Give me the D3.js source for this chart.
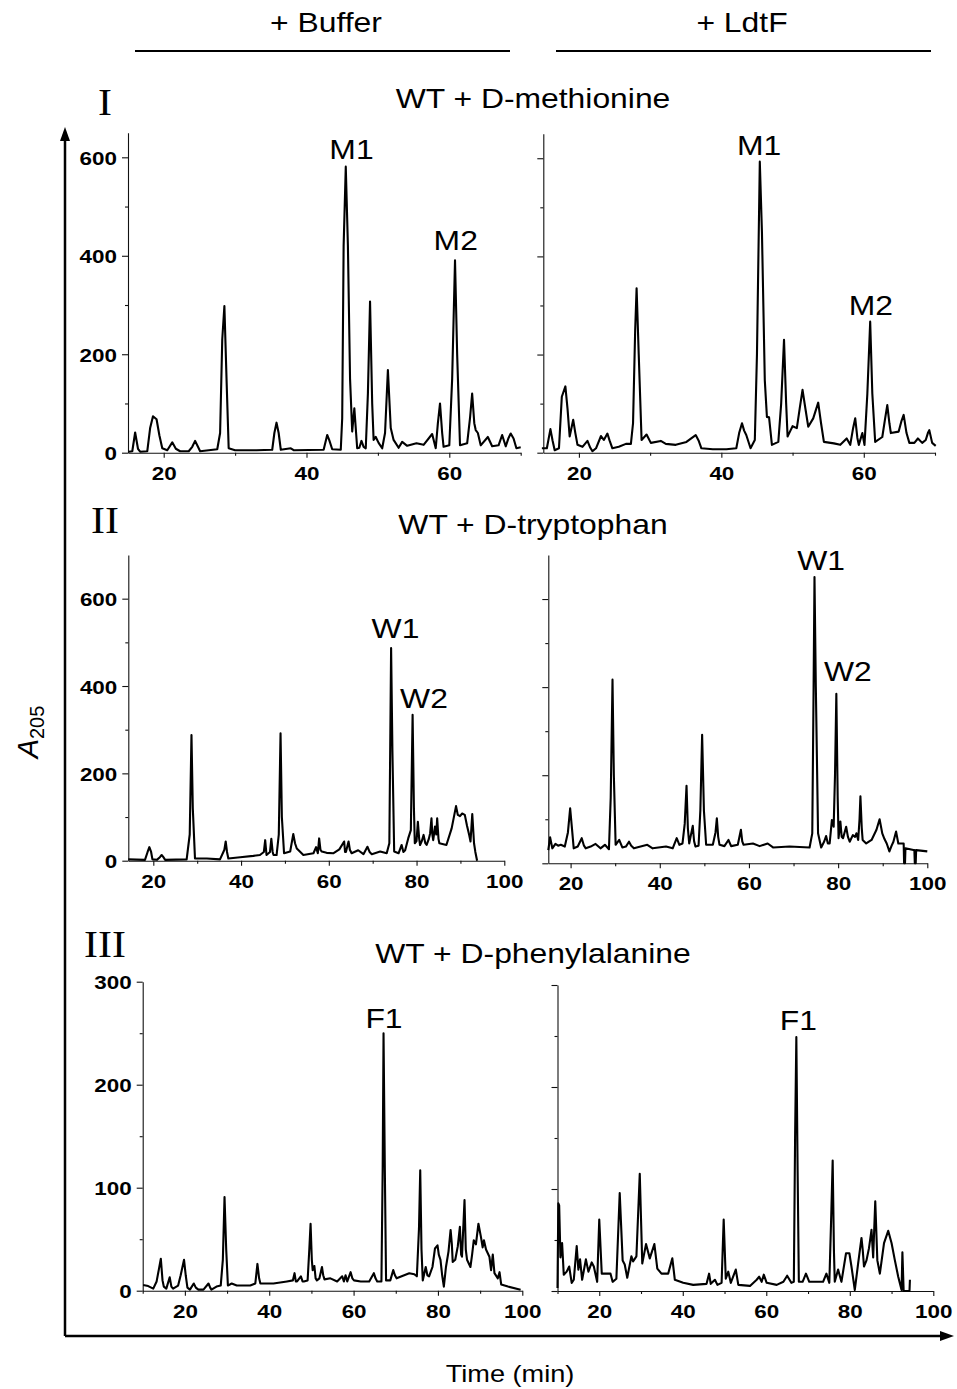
<!DOCTYPE html>
<html><head><meta charset="utf-8">
<script src="https://cdn.jsdelivr.net/npm/d3@7"></script>
<style>body{margin:0;background:#fff} svg{display:block}</style>
</head><body>
<svg id="chart" width="957" height="1389"></svg>
<script>
// ---------------- DATA (time in min, A205) ----------------
const metBuffer = [[15.1,2],[15.6,3],[16.0,41],[16.4,8],[16.7,2],[17.7,3],[18.1,50],[18.5,74],[19.0,68],[19.4,35],[19.8,9],[20.5,5],[21.2,21],[21.7,8],[22.3,3],[23.5,3],[24.0,12],[24.4,24],[24.8,12],[25.1,3],[27.5,7],[27.9,40],[28.2,230],[28.5,298],[28.8,150],[29.1,9],[30,5],[33,5],[35.2,6],[35.5,40],[35.8,61],[36.1,40],[36.4,6],[37.8,9],[38.2,5],[42.4,6],[42.9,36],[43.2,25],[43.6,7],[44.8,6],[45.0,70],[45.2,420],[45.5,581],[45.8,420],[46.1,150],[46.4,43],[46.7,90],[47.1,9],[47.4,10],[47.7,24],[48.0,12],[48.3,9],[48.6,120],[48.9,307],[49.2,100],[49.4,26],[49.7,32],[50.1,20],[50.6,9],[51.0,40],[51.4,168],[51.8,50],[52.2,26],[52.9,10],[53.4,22],[54.1,14],[55.4,19],[56.4,16],[57.6,38],[58.1,9],[58.4,60],[58.7,100],[59.0,40],[59.2,12],[60.0,15],[60.4,150],[60.8,391],[61.1,200],[61.5,15],[62.5,19],[62.9,70],[63.2,120],[63.5,60],[63.7,46],[64.0,40],[64.4,15],[65.4,32],[66.0,13],[66.9,15],[67.4,36],[67.9,13],[68.3,30],[68.6,39],[69.0,29],[69.4,9],[70,11]];
const metLdtF = [[14.8,9],[15.5,9],[16.0,48],[16.3,25],[16.6,5],[17.2,9],[17.6,114],[18.1,135],[18.4,90],[18.7,33],[19.2,67],[19.5,40],[19.8,16],[20.5,12],[21.2,24],[21.6,10],[21.9,3],[22.4,9],[23.1,34],[23.5,26],[24.0,39],[24.3,25],[24.7,9],[25.6,12],[26.6,18],[27.3,18],[27.6,60],[27.9,250],[28.1,335],[28.4,200],[28.8,26],[29.5,37],[30.1,20],[31.5,24],[32.2,18],[33.6,16],[35.1,22],[36.4,36],[36.8,25],[37.2,9],[38.8,7],[40.7,7],[42.1,9],[42.5,40],[42.9,60],[43.2,45],[43.5,36],[44.1,9],[44.7,26],[45.0,200],[45.4,593],[45.7,450],[46.1,148],[46.4,73],[46.7,72],[47.1,16],[48.0,22],[48.4,100],[48.8,230],[49.1,100],[49.3,33],[49.7,45],[50.0,54],[50.6,50],[51.0,90],[51.4,128],[51.8,90],[52.2,53],[52.9,70],[53.6,102],[54.0,60],[54.4,22],[55.8,19],[56.7,16],[57.6,29],[58.1,16],[58.5,50],[58.8,70],[59.1,30],[59.3,16],[59.8,40],[60.1,16],[60.5,120],[60.9,267],[61.2,120],[61.6,22],[62.6,32],[63.0,70],[63.3,97],[63.6,60],[63.8,40],[64.9,43],[65.3,65],[65.6,77],[66.0,40],[66.4,20],[67.1,20],[67.6,29],[68.2,20],[68.7,26],[69.0,40],[69.2,46],[69.6,20],[70.1,14]];
const trpBuffer = [[14.3,3],[18.1,2],[18.7,20],[19.1,31],[19.5,20],[19.8,3],[20.8,2],[21.5,8],[21.9,13],[22.3,8],[22.7,2],[27.6,3],[28.3,60],[28.7,288],[29.0,120],[29.5,5],[32.2,5],[35.2,3],[36.2,25],[36.5,44],[36.8,20],[37.1,5],[39.8,8],[42.8,11],[44.3,13],[45.2,20],[45.5,47],[45.8,13],[46.6,20],[46.9,50],[47.2,20],[47.4,13],[48.1,13],[48.6,60],[49.0,292],[49.3,100],[49.8,17],[51.2,21],[51.9,61],[52.3,40],[52.7,28],[54.2,13],[56.5,17],[57.1,31],[57.5,17],[57.8,51],[58.1,25],[58.4,21],[59.5,18],[61.0,17],[62.4,26],[63.5,44],[63.7,20],[63.9,20],[64.5,44],[64.8,25],[65.2,17],[66.7,24],[67.9,15],[68.8,32],[69.3,20],[69.8,15],[71.7,21],[73.2,17],[73.8,40],[74.2,487],[74.5,250],[74.9,21],[75.9,17],[76.6,36],[77.0,20],[77.4,24],[78.1,51],[78.7,70],[79.1,334],[79.4,120],[79.6,40],[80.0,45],[80.3,89],[80.6,50],[80.8,36],[81.2,45],[81.6,59],[82.0,40],[82.3,36],[82.8,50],[83.1,63],[83.4,97],[83.6,60],[83.8,47],[84.2,78],[84.5,60],[84.7,97],[85.0,50],[85.2,40],[86.8,36],[88.0,74],[89.0,125],[89.4,105],[89.9,102],[90.4,108],[91.0,105],[91.5,80],[92.0,59],[92.3,44],[92.7,107],[93.1,40],[93.4,20],[93.8,0]];
const trpLdtF = [[15.0,30],[15.4,59],[15.9,34],[16.6,44],[17.2,40],[17.8,42],[18.7,38],[19.4,70],[19.9,125],[20.3,80],[20.7,34],[21.6,38],[22.5,57],[23.0,40],[23.4,34],[24.5,38],[25.6,44],[26.7,34],[27.7,42],[28.6,32],[29.0,150],[29.4,417],[29.7,200],[30.1,42],[30.9,53],[31.6,36],[32.4,38],[33.1,49],[33.6,40],[34.2,34],[37.2,42],[38.4,34],[41.4,38],[42.9,34],[43.8,57],[44.4,42],[45.1,45],[45.6,90],[46.0,176],[46.3,80],[46.6,45],[47.4,85],[47.7,50],[48.0,38],[48.7,40],[49.1,120],[49.5,292],[49.9,120],[50.4,42],[51.9,42],[52.5,70],[52.8,102],[53.1,60],[53.4,42],[54.5,39],[55.4,53],[56.0,39],[57.5,42],[58.2,76],[58.5,50],[58.8,42],[60.9,45],[62.4,39],[64.2,45],[65.4,36],[69.1,38],[73.6,36],[74.2,68],[74.5,400],[74.7,650],[75.0,400],[75.5,68],[76.2,36],[76.9,50],[77.3,62],[77.7,45],[78.1,45],[78.6,98],[79.0,83],[79.3,200],[79.6,385],[79.9,150],[80.1,57],[80.5,95],[80.8,60],[81.1,57],[81.8,83],[82.2,60],[82.6,49],[83.3,64],[83.8,60],[84.1,68],[84.5,53],[84.8,100],[85.0,152],[85.3,80],[85.5,53],[86.3,45],[87.5,53],[88.6,76],[89.3,100],[89.9,68],[90.4,55],[90.9,45],[91.5,27],[92.0,40],[92.4,49],[93.0,72],[93.5,45],[94.5,45],[94.7,45],[94.8,0],[95.0,0],[95.1,34],[96.9,30],[97.1,30],[97.2,0],[97.4,0],[97.5,30],[100,27]];
const pheBuffer = [[10.1,5.5],[11.3,4.5],[12.5,2],[13.3,9],[13.8,20],[14.3,31],[14.7,10],[15.0,4],[15.6,2],[16.4,13],[16.8,4],[17.2,2],[18.4,5],[19.0,15],[19.8,30],[20.2,15],[20.6,3],[21.2,1],[22.1,7],[22.6,3],[23.2,1],[24.4,1],[25.6,7],[26.0,3],[26.3,1],[27.5,4],[28.5,5],[29.0,30],[29.4,91],[29.8,40],[30.2,5],[31.1,7],[32.3,5],[35.5,5],[36.7,7],[37.2,26],[37.6,12],[37.9,7],[41.0,7],[44.2,9],[45.6,10],[46.0,17],[46.3,9],[46.6,9],[47.5,14],[47.9,9],[48.2,9],[49.1,10],[49.5,40],[49.8,65],[50.1,30],[50.3,20],[50.7,24],[51.0,12],[51.3,10],[51.9,12],[52.5,23],[52.8,15],[53.1,11],[54.5,12],[56.1,9],[57.3,14],[57.7,9],[58.1,15],[58.5,9],[59.3,18],[59.7,12],[60.1,10],[61.7,9],[63.7,9],[64.8,17],[65.2,12],[65.6,9],[66.6,9],[66.9,120],[67.1,250],[67.4,120],[67.7,10],[68.7,10],[69.4,20],[69.8,15],[70.2,12],[72.0,15],[73.2,17],[74.4,16],[75.0,14],[75.5,60],[75.8,117],[76.1,40],[76.4,10],[77.1,23],[77.5,15],[77.9,14],[78.7,23],[79.3,41],[79.9,44],[80.2,35],[80.6,30],[81.0,15],[81.4,4],[81.9,23],[82.5,38],[83.0,59],[83.3,45],[83.5,28],[84.1,30],[84.7,43],[85.2,62],[85.5,35],[85.7,33],[86.3,88],[86.6,40],[86.9,30],[87.7,23],[88.1,35],[88.5,49],[89.0,45],[89.6,65],[90.2,52],[90.6,42],[90.9,49],[91.4,40],[92.2,33],[92.6,20],[93.0,35],[93.4,17],[94.2,12],[94.6,18],[95.0,6],[96.6,4],[99.6,1]];
const pheLdtF = [[10.0,3],[10.2,86],[10.4,84],[10.7,33],[11.1,47],[11.5,16],[12.2,19],[12.8,24],[13.4,8],[13.9,11],[14.6,44],[15.0,21],[15.4,31],[15.9,11],[16.8,31],[17.4,19],[18.2,28],[18.7,24],[19.5,9],[20.0,70],[20.6,17],[21.8,17],[22.7,17],[23.2,9],[24.1,12],[24.9,96],[25.6,30],[26.1,26],[26.7,13],[27.7,34],[28.1,29],[28.9,34],[29.7,115],[30.3,27],[31.2,46],[32.1,32],[33.2,46],[33.9,22],[34.9,17],[36.5,17],[37.5,32],[38.1,11],[40.1,8],[42.5,6],[45.7,7],[46.3,17],[46.7,7],[47.7,11],[48.3,6],[49.3,8],[49.8,70],[50.3,12],[50.9,19],[51.5,8],[52.7,21],[53.3,6],[56.1,5],[57.7,11],[58.3,14],[58.9,9],[59.4,16],[60.1,8],[62.5,6],[64.1,9],[65.0,15],[66.0,8],[66.6,9],[66.9,150],[67.2,249],[67.5,120],[67.8,9],[68.7,9],[69.5,17],[70.3,9],[72.0,9],[73.6,9],[74.4,17],[75.1,8],[75.6,80],[75.9,128],[76.2,40],[76.4,9],[77.2,21],[78.0,9],[79.1,37],[79.9,37],[80.4,24],[81.2,1],[82.0,27],[82.8,52],[83.1,40],[83.4,24],[84.0,30],[84.6,42],[85.2,60],[85.6,33],[86.1,88],[86.6,30],[87.2,17],[88.2,47],[89.2,59],[90.0,47],[90.8,30],[91.6,14],[92.4,1],[92.6,38],[92.9,0],[94.3,0],[94.4,11]];

// peak annotations: [label, time, A205]
const metBufferPeaks = [["M1",46.3,596],["M2",60.9,411]];
const metLdtFPeaks = [["M1",45.3,607],["M2",61.0,280]];
const trpBufferPeaks = [["W1",75.2,510],["W2",81.7,349]];
const trpLdtFPeaks = [["W1",76.2,665],["W2",82.2,413]];
const pheBufferPeaks = [["F1",67.2,255]];
const pheLdtFPeaks = [["F1",67.7,256]];

// tick values
const xMajorI = [20,40,60], xMinorI = [30,50,70];
const yMajorI = [0,200,400,600], yMinorI = [100,300,500];
const xMajorII = [20,40,60,80,100], xMinorII = [30,50,70,90];
const yMajorII = [0,200,400,600], yMinorII = [100,300,500];
const xMajorIII = [20,40,60,80,100], xMinorIII = [10,30,50,70,90];
const yMajorIII = [0,100,200,300], yMinorIII = [50,150,250];

const columnHeaders = ["+ Buffer", "+ LdtF"];
const rowNumerals = ["I", "II", "III"];
const rowTitles = ["WT + D-methionine", "WT + D-tryptophan", "WT + D-phenylalanine"];

// ---------------- DRAWING ----------------
const SX = 1.18;
const FONT = "'Liberation Sans', Arial, sans-serif";
const SERIF = "'Liberation Serif', 'Times New Roman', serif";
const svg = d3.select("#chart");

function txt(g, x, y, s, size, opts = {}) {
  return g.append("text")
    .attr("transform", `translate(${x},${y}) scale(${opts.sx || SX},1)`)
    .attr("text-anchor", opts.anchor || "middle")
    .attr("font-family", opts.family || FONT)
    .attr("font-size", size)
    .attr("font-weight", opts.weight || "normal")
    .attr("fill", "#000")
    .text(s);
}

const panels = [
  {data: metBuffer, peaks: metBufferPeaks, xDom:[15,70], yDom:[0,650], xr:[128,520.7], yr:[452.7,132.7], xMaj:xMajorI, xMin:xMinorI, yMaj:yMajorI, yMin:yMinorI, yLab:true},
  {data: metLdtF, peaks: metLdtFPeaks, xDom:[15,70], yDom:[0,650], xr:[543.3,935], yr:[452.7,133.7], xMaj:xMajorI, xMin:xMinorI, yMaj:yMajorI, yMin:yMinorI, yLab:false},
  {data: trpBuffer, peaks: trpBufferPeaks, xDom:[14.3,100], yDom:[0,700], xr:[128.3,504.3], yr:[860.7,555], xMaj:xMajorII, xMin:xMinorII, yMaj:yMajorII, yMin:yMinorII, yLab:true},
  {data: trpLdtF, peaks: trpLdtFPeaks, xDom:[15,100], yDom:[0,700], xr:[548.3,927.3], yr:[863.3,555], xMaj:xMajorII, xMin:xMinorII, yMaj:yMajorII, yMin:yMinorII, yLab:false},
  {data: pheBuffer, peaks: pheBufferPeaks, xDom:[10,100], yDom:[0,300], xr:[142.7,522.3], yr:[1290.7,981.7], xMaj:xMajorIII, xMin:xMinorIII, yMaj:yMajorIII, yMin:yMinorIII, yLab:true},
  {data: pheLdtF, peaks: pheLdtFPeaks, xDom:[10,100], yDom:[0,300], xr:[557.5,933.3], yr:[1291,985], xMaj:xMajorIII, xMin:xMinorIII, yMaj:yMajorIII, yMin:yMinorIII, yLab:false}
];

function styleAxis(sel) {
  sel.selectAll(".domain").attr("stroke", "#111").attr("stroke-width", 1.1);
  sel.selectAll(".tick line").attr("stroke", "#111").attr("stroke-width", 1.1);
}

panels.forEach(p => {
  const g = svg.append("g");
  const x = d3.scaleLinear().domain(p.xDom).range(p.xr);
  const y = d3.scaleLinear().domain(p.yDom).range(p.yr);

  // x axis
  const gx = g.append("g").attr("transform", `translate(0,${p.yr[0]})`)
    .call(d3.axisBottom(x).tickValues(p.xMaj).tickSize(5).tickSizeOuter(0).tickFormat(d3.format("d")));
  gx.attr("font-family", FONT).attr("font-size", 19).attr("font-weight", "bold");
  gx.selectAll(".tick text").attr("y", null).attr("dy", null)
    .attr("transform", `translate(0,27) scale(${SX},1)`).attr("fill", "#000");
  styleAxis(gx);
  const gxm = g.append("g").attr("transform", `translate(0,${p.yr[0]})`)
    .call(d3.axisBottom(x).tickValues(p.xMin).tickSize(3).tickSizeOuter(0).tickFormat(""));
  gxm.select(".domain").remove();
  styleAxis(gxm);

  // y axis
  const gy = g.append("g").attr("transform", `translate(${p.xr[0]},0)`)
    .call(d3.axisLeft(y).tickValues(p.yMaj).tickSize(6).tickSizeOuter(0)
      .tickFormat(p.yLab ? d3.format("d") : ""));
  gy.attr("font-family", FONT).attr("font-size", 19).attr("font-weight", "bold");
  gy.selectAll(".tick text").attr("x", null).attr("dy", null)
    .attr("transform", `translate(-11,7) scale(${SX},1)`).attr("fill", "#000");
  styleAxis(gy);
  const gym = g.append("g").attr("transform", `translate(${p.xr[0]},0)`)
    .call(d3.axisLeft(y).tickValues(p.yMin).tickSize(3).tickSizeOuter(0).tickFormat(""));
  gym.select(".domain").remove();
  styleAxis(gym);

  // trace
  g.append("path").datum(p.data)
    .attr("fill", "none").attr("stroke", "#000").attr("stroke-width", 2.1)
    .attr("stroke-linejoin", "round")
    .attr("d", d3.line().x(d => x(d[0])).y(d => y(d[1])));

  // peak labels
  p.peaks.forEach(([lab, t, v]) => txt(g, x(t), y(v), lab, 27));
});

// column headers and underlines
const hdrX = [326, 742];
const hdrLines = [[135, 510], [556, 931]];
columnHeaders.forEach((h, i) => {
  txt(svg, hdrX[i], 32, h, 27);
  svg.append("line").attr("x1", hdrLines[i][0]).attr("x2", hdrLines[i][1])
    .attr("y1", 51).attr("y2", 51).attr("stroke", "#000").attr("stroke-width", 2);
});

// row titles and numerals
const rowY = [108, 534, 963];
const numY = [115, 533, 957];
rowTitles.forEach((t, i) => txt(svg, 533, rowY[i], t, 27));
rowNumerals.forEach((n, i) => txt(svg, 105, numY[i], n, 38, {family: SERIF, sx: 1.1}));

// big L-shaped arrows
svg.append("path").attr("d", "M65,1336 V138 M65,1336 H942")
  .attr("fill", "none").attr("stroke", "#000").attr("stroke-width", 2.5);
svg.append("path").attr("d", "M65,127 L60,141 L70,141 Z").attr("fill", "#000");
svg.append("path").attr("d", "M954,1336 L940,1331 L940,1341 Z").attr("fill", "#000");

// axis titles
txt(svg, 510, 1382, "Time (min)", 23);
const yt = svg.append("text")
  .attr("transform", "translate(38,732) rotate(-90)")
  .attr("text-anchor", "middle")
  .attr("font-family", FONT).attr("fill", "#000");
yt.append("tspan").attr("font-size", 29).attr("font-style", "italic").text("A");
yt.append("tspan").attr("font-size", 20).attr("dy", 6).text("205");
</script>
</body></html>
